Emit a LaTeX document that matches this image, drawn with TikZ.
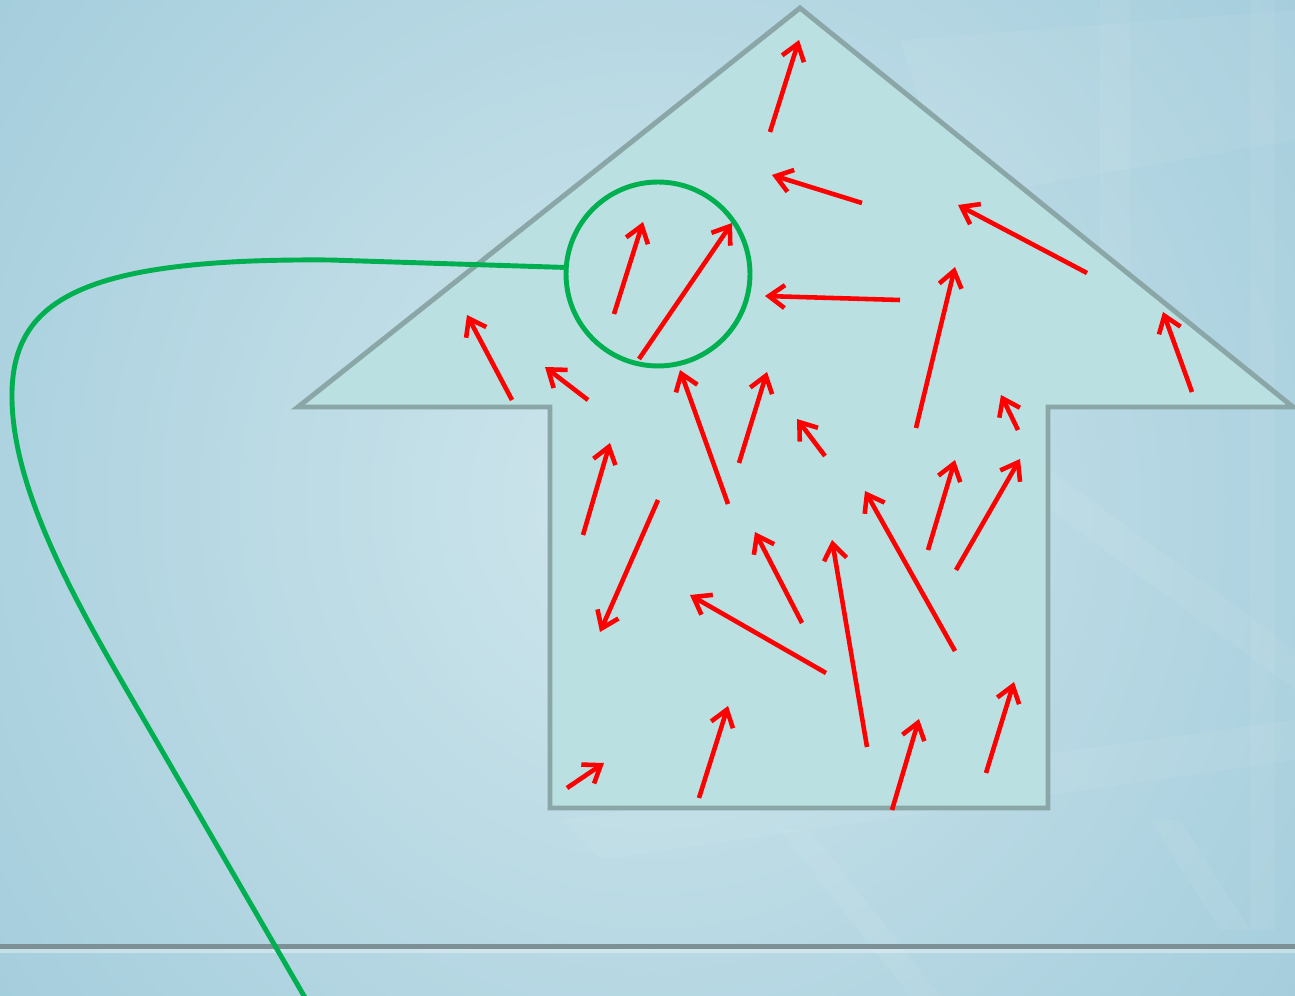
\documentclass[tikz,border=0pt]{standalone}
\usetikzlibrary{arrows.meta}
\definecolor{bgout}{HTML}{93C3D6}
\definecolor{bgin}{HTML}{CFE6EC}
\definecolor{housefill}{HTML}{BAE0E2}
\definecolor{houseedge}{HTML}{8AA6A6}
\definecolor{lensgreen}{HTML}{00B050}
\definecolor{rulegray}{HTML}{7C9096}
\tikzset{
  px/.style={x=0.02cm,y=-0.02cm},
  vec/.style={red,line width=2.6pt,-{Straight Barb[length=9pt,width=13pt,line width=2.6pt]}},
  house/.style={fill=housefill,draw=houseedge,line width=2.8pt,line join=miter},
  lens/.style={circle,draw=lensgreen,line width=2.8pt,minimum size=3.68cm,inner sep=0pt},
  lead/.style={draw=lensgreen,line width=2.8pt},
  faint/.style={fill=white,opacity=0.06}
}
\begin{document}
\begin{tikzpicture}[px]
\useasboundingbox (0,0) rectangle (1295,996);
\begin{scope}
\clip (0,0) rectangle (1295,996);
% background
\shade[inner color=bgin,outer color=bgout] (-500,-700) rectangle (1800,1700);
\fill[faint] (900,40) -- (1295,10) -- (1295,140) -- (950,200) -- cycle;
\fill[faint] (1100,0) -- (1130,0) -- (1130,400) -- (1100,400) -- cycle;
\fill[faint] (1250,0) -- (1275,0) -- (1275,930) -- (1250,930) -- cycle;
\fill[faint] (1050,470) -- (1295,650) -- (1295,690) -- (1050,510) -- cycle;
\fill[faint] (560,820) -- (1295,720) -- (1295,760) -- (600,860) -- cycle;
\fill[faint] (780,830) -- (810,830) -- (940,996) -- (910,996) -- cycle;
\fill[faint] (1150,820) -- (1180,820) -- (1250,930) -- (1220,930) -- cycle;
% bottom rule
\fill[rulegray] (0,944) rectangle (1295,949);
\fill[white,opacity=0.35] (0,949) rectangle (1295,953);
% house arrow
\draw[house] (800,8) -- (1293,407) -- (1048,407) -- (1048,808) -- (550,808)
  -- (550,407) -- (298,407) -- cycle;
% vectors
\coordinate (t1) at (770,132);  \coordinate (h1) at (799,40);
\coordinate (t2) at (862,203);  \coordinate (h2) at (772,175);
\coordinate (t3) at (1087,273); \coordinate (h3) at (958,205);
\coordinate (t4) at (900,300);  \coordinate (h4) at (765,296);
\coordinate (t5) at (916,428);  \coordinate (h5) at (955,267);
\coordinate (t6) at (1192,392); \coordinate (h6) at (1163,312);
\coordinate (t7) at (614,314);  \coordinate (h7) at (643,222);
\coordinate (t8) at (639,359);  \coordinate (h8) at (732,223);
\coordinate (t9) at (512,400);  \coordinate (h9) at (467,315);
\coordinate (t10) at (588,400); \coordinate (h10) at (545,367);
\coordinate (t11) at (728,504); \coordinate (h11) at (680,370);
\coordinate (t12) at (739,463); \coordinate (h12) at (767,372);
\coordinate (t13) at (825,456); \coordinate (h13) at (797,419);
\coordinate (t14) at (1018,430);\coordinate (h14) at (1001,395);
\coordinate (t15) at (583,535); \coordinate (h15) at (610,443);
\coordinate (t16) at (658,500); \coordinate (h16) at (600,632);
\coordinate (t17) at (928,550); \coordinate (h17) at (955,460);
\coordinate (t18) at (956,570); \coordinate (h18) at (1020,459);
\coordinate (t19) at (955,651); \coordinate (h19) at (865,491);
\coordinate (t20) at (802,623); \coordinate (h20) at (755,532);
\coordinate (t21) at (867,747); \coordinate (h21) at (832,540);
\coordinate (t22) at (826,673); \coordinate (h22) at (690,595);
\coordinate (t23) at (567,788); \coordinate (h23) at (604,763);
\coordinate (t24) at (699,798); \coordinate (h24) at (728,706);
\coordinate (t25) at (892,810); \coordinate (h25) at (919,719);
\coordinate (t26) at (986,773); \coordinate (h26) at (1014,682);
\foreach \i in {1,...,26} { \draw[vec] (t\i) -- (h\i); }
% lens and lead
\node[lens] (lens) at (658,274) {};
\coordinate (leadend) at (318,1020);
\draw[lead] (lens.176) -- (330,260) .. controls (80,258) and (10,300) .. (12,400)
  .. controls (14,500) and (86,620) .. (150,730) -- (leadend);
\end{scope}
\end{tikzpicture}
\end{document}
